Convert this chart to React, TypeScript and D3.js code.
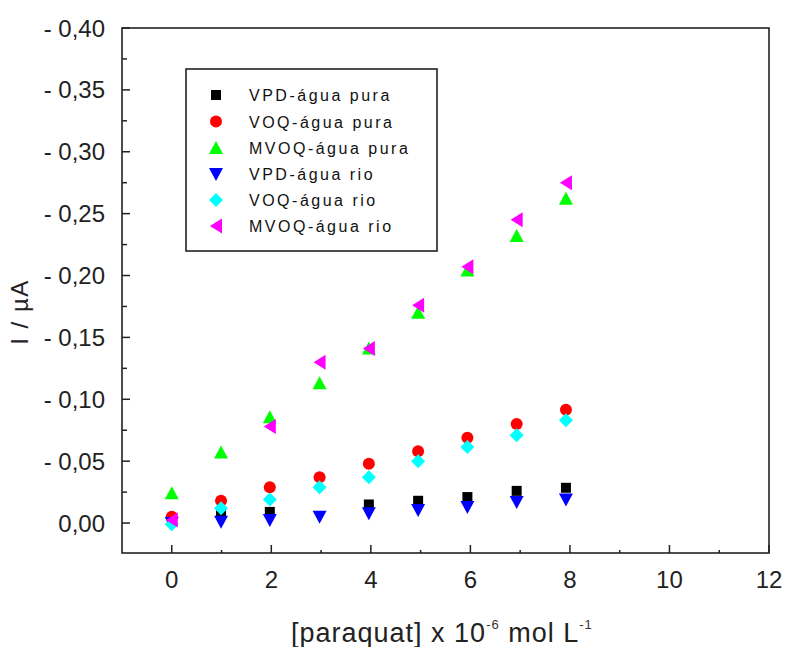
import React from "react";
import * as d3 from "d3";

const concentrations = [0, 0.99, 1.97, 2.97, 3.96, 4.95, 5.94, 6.93, 7.92];

const vpdPura = [0.002, 0.008, 0.009, null, 0.015, 0.018, 0.021, 0.026, 0.0285];
const voqPura = [0.005, 0.018, 0.029, 0.037, 0.048, 0.058, 0.069, 0.08, 0.0915];
const mvoqPura = [0.024, 0.057, 0.0855, 0.113, 0.141, 0.17, 0.204, 0.232, 0.262];
const vpdRio = [0.0, 0.001, 0.0024, 0.005, 0.008, 0.0105, 0.013, 0.017, 0.019];
const voqRio = [-0.001, 0.012, 0.019, 0.029, 0.037, 0.05, 0.0615, 0.071, 0.083];
const mvoqRio = [0.0024, null, 0.078, 0.13, 0.141, 0.176, 0.207, 0.245, 0.275];

const seriesNames = [
  "VPD-água pura",
  "VOQ-água pura",
  "MVOQ-água pura",
  "VPD-água rio",
  "VOQ-água rio",
  "MVOQ-água rio",
];
const seriesColors = ["#000000", "#ff0000", "#00ff00", "#0000ff", "#00ffff", "#ff00ff"];
const seriesShapes = ["square", "circle", "up", "down", "diamond", "left"];
const seriesValues = [vpdPura, voqPura, mvoqPura, vpdRio, voqRio, mvoqRio];

const xMajorTicks = [0, 2, 4, 6, 8, 10, 12];
const xTickLabels = ["0", "2", "4", "6", "8", "10", "12"];
const xMinorTicks = [1, 3, 5, 7, 9, 11];
const yMajorTicks = [0, 0.05, 0.1, 0.15, 0.2, 0.25, 0.3, 0.35, 0.4];
const yTickLabels = ["0,00", "- 0,05", "- 0,10", "- 0,15", "- 0,20", "- 0,25", "- 0,30", "- 0,35", "- 0,40"];
const yMinorTicks = [0.025, 0.075, 0.125, 0.175, 0.225, 0.275, 0.325, 0.375];

const W = 787;
const H = 647;
const left = 122;
const right = 769;
const top = 28;
const bottom = 553;

function markerPath(shape: string): string {
  switch (shape) {
    case "square":
      return "M-5,-5L5,-5L5,5L-5,5Z";
    case "circle":
      return "M-6,0A6,6 0 1,0 6,0A6,6 0 1,0 -6,0Z";
    case "up":
      return "M0,-7L7,6L-7,6Z";
    case "down":
      return "M0,7L7,-6L-7,-6Z";
    case "diamond":
      return "M0,-7L7,0L0,7L-7,0Z";
    case "left":
      return "M-6,0L6,-7.5L6,7.5Z";
    default:
      return "";
  }
}

export default function App() {
  const x = d3.scaleLinear().domain([-1, 12]).range([left, right]);
  const y = d3.scaleLinear().domain([-0.0242, 0.4]).range([bottom, top]);
  const font = "'Liberation Sans', Arial, sans-serif";
  const axisColor = "#222";

  const legendX = 186;
  const legendY = 69;
  const legendW = 251;
  const legendH = 182;
  const legendRows = [95, 121.5, 148, 174, 200, 226];

  return (
    <svg
      width={W}
      height={H}
      style={{ position: "absolute", left: 0, top: 0, background: "#fff" }}
      fontFamily={font}
    >
      <rect x={0} y={0} width={W} height={H} fill="#fff" />
      {/* data */}
      {seriesValues.map((vals, si) => (
        <g key={si} fill={seriesColors[si]}>
          {vals.map((v, i) =>
            v === null ? null : (
              <path
                key={i}
                d={markerPath(seriesShapes[si])}
                transform={`translate(${x(concentrations[i])},${y(v)})`}
              />
            )
          )}
        </g>
      ))}
      {/* frame */}
      <rect
        x={left}
        y={top}
        width={right - left}
        height={bottom - top}
        fill="none"
        stroke={axisColor}
        strokeWidth={1.6}
      />
      {/* x ticks */}
      {xMajorTicks.map((t, i) => (
        <g key={"xm" + i}>
          <line x1={x(t)} x2={x(t)} y1={bottom} y2={bottom - 8} stroke={axisColor} strokeWidth={1.5} />
          <text x={x(t)} y={588} textAnchor="middle" fontSize={24} fill="#222">
            {xTickLabels[i]}
          </text>
        </g>
      ))}
      {xMinorTicks.map((t, i) => (
        <line key={"xn" + i} x1={x(t)} x2={x(t)} y1={bottom} y2={bottom - 3} stroke={axisColor} strokeWidth={1.5} />
      ))}
      {/* y ticks */}
      {yMajorTicks.map((t, i) => (
        <g key={"ym" + i}>
          <line x1={left} x2={left + 8} y1={y(t)} y2={y(t)} stroke={axisColor} strokeWidth={1.5} />
          <text x={105} y={y(t) + 8.5} textAnchor="end" fontSize={24} fill="#222">
            {yTickLabels[i]}
          </text>
        </g>
      ))}
      {yMinorTicks.map((t, i) => (
        <line key={"yn" + i} x1={left} x2={left + 5} y1={y(t)} y2={y(t)} stroke={axisColor} strokeWidth={1.5} />
      ))}
      {/* axis titles */}
      <text
        transform="translate(28,312) rotate(-90)"
        textAnchor="middle"
        fontSize={24}
        fill="#222"
        letterSpacing={1.5}
      >
        I / µA
      </text>
      <text x={291} y={642} fontSize={27} fill="#222" letterSpacing={1}>
        [paraquat] x 10
        <tspan fontSize={13} dy={-13} fill="#333">-6</tspan>
        <tspan dy={13}> mol L</tspan>
        <tspan fontSize={13} dy={-13} fill="#333">-1</tspan>
      </text>
      {/* legend */}
      <rect
        x={legendX}
        y={legendY}
        width={legendW}
        height={legendH}
        fill="#fff"
        stroke={axisColor}
        strokeWidth={1.6}
      />
      {seriesNames.map((name, i) => (
        <g key={"lg" + i}>
          <path
            d={markerPath(seriesShapes[i])}
            fill={seriesColors[i]}
            transform={`translate(216,${legendRows[i]})`}
          />
          <text x={249} y={legendRows[i] + 6} fontSize={16} fill="#111" letterSpacing={2.5}>
            {name}
          </text>
        </g>
      ))}
    </svg>
  );
}
